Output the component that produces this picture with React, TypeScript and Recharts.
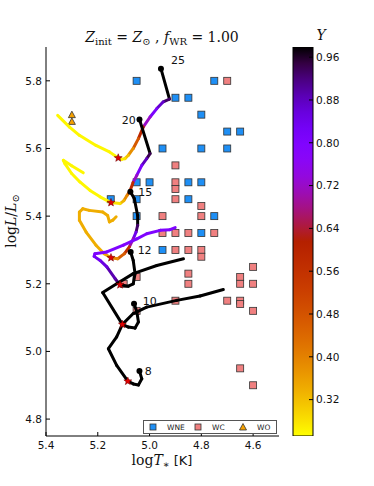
import React from "react";
import { ScatterChart, Scatter, XAxis, YAxis, Legend, BarChart, Bar } from "recharts";

// colour scale (surface He fraction Y)
const Y_MIN = 0.252;
const Y_MAX = 0.979;
const Y_TICKS = [0.32, 0.4, 0.48, 0.56, 0.64, 0.72, 0.8, 0.88, 0.96];
const T_TICKS = [5.4, 5.2, 5.0, 4.8, 4.6];
const L_TICKS = [4.8, 5.0, 5.2, 5.4, 5.6, 5.8];

// observed WR stars [logT, logL]
const WNE = [
  [5.05, 5.8], [4.9, 5.75], [4.85, 5.75], [4.75, 5.8], [4.8, 5.7], [4.7, 5.65], [4.65, 5.65],
  [4.95, 5.6], [4.8, 5.6], [4.7, 5.6], [5.05, 5.5], [5.0, 5.5], [4.85, 5.5], [4.8, 5.5],
  [5.15, 5.45], [5.05, 5.45], [4.85, 5.45], [5.05, 5.4], [4.75, 5.4], [4.8, 5.35], [4.95, 5.3],
];
const WC = [
  [4.7, 5.8], [4.9, 5.55], [4.9, 5.5], [4.9, 5.48], [4.9, 5.45], [4.8, 5.43], [4.95, 5.4], [4.8, 5.4],
  [4.95, 5.35], [4.9, 5.35], [4.85, 5.35], [4.75, 5.35], [4.9, 5.3], [4.85, 5.3], [4.8, 5.3], [4.8, 5.28],
  [5.05, 5.22], [4.85, 5.23], [4.85, 5.2], [5.1, 5.2], [4.9, 5.15], [5.05, 5.12], [4.65, 5.22], [4.6, 5.25],
  [4.65, 5.2], [4.6, 5.2], [4.7, 5.15], [4.65, 5.15], [4.65, 5.14], [4.6, 5.12], [4.65, 4.95], [4.6, 4.9],
];
const WO = [[5.3, 5.7], [5.3, 5.68]];

// tracks [logT, logL, Y]; Y null = non-WR phase (black)
type Pt = [number, number, number | null];
const TRACK_25: Pt[] = [
  [4.956, 5.836, null], [4.923, 5.746, 0.96], [4.947, 5.738, 0.9], [4.972, 5.718, 0.84],
  [4.998, 5.693, 0.78], [5.024, 5.664, 0.66], [5.043, 5.629, 0.52], [5.063, 5.6, 0.42],
  [5.082, 5.58, 0.34], [5.095, 5.57, 0.29], [5.107, 5.568, 0.27], [5.121, 5.572, 0.26],
  [5.155, 5.59, 0.26], [5.207, 5.609, 0.26], [5.271, 5.639, 0.26], [5.31, 5.664, 0.26],
  [5.355, 5.698, 0.26],
];
const TRACK_20: Pt[] = [
  [5.039, 5.686, null], [4.998, 5.585, 0.96], [5.011, 5.57, 0.92], [5.03, 5.55, 0.84],
  [5.049, 5.521, 0.78], [5.064, 5.499, 0.66], [5.075, 5.476, 0.5], [5.087, 5.461, 0.42],
  [5.099, 5.446, 0.36], [5.114, 5.437, 0.3], [5.149, 5.44, 0.26], [5.191, 5.457, 0.26],
  [5.23, 5.476, 0.26], [5.269, 5.501, 0.26], [5.301, 5.526, 0.26], [5.327, 5.555, 0.26],
  [5.333, 5.565, 0.26], [5.301, 5.549, 0.26], [5.256, 5.528, 0.26],
];
const TRACK_15: Pt[] = [
  [5.074, 5.472, null], [5.059, 5.452, null], [5.046, 5.402, null], [5.046, 5.373, 0.96],
  [5.052, 5.353, 0.9], [5.063, 5.333, 0.78], [5.078, 5.309, 0.62], [5.097, 5.289, 0.5],
  [5.123, 5.274, 0.42], [5.149, 5.277, 0.36], [5.175, 5.289, 0.34], [5.207, 5.314, 0.34],
  [5.245, 5.353, 0.34], [5.271, 5.388, 0.34], [5.271, 5.412, 0.34], [5.258, 5.422, 0.34],
  [5.233, 5.417, 0.34], [5.181, 5.412, 0.34], [5.162, 5.402, 0.34], [5.155, 5.383, 0.34],
  [5.142, 5.388, 0.34], [5.129, 5.398, 0.34],
];
const TRACK_12: Pt[] = [
  [5.073, 5.294, null], [5.063, 5.269, null], [5.056, 5.23, null], [5.063, 5.2, null],
  [5.082, 5.193, null], [5.114, 5.197, 0.93], [5.133, 5.215, 0.91], [5.165, 5.25, 0.87],
  [5.191, 5.269, 0.84], [5.214, 5.281, 0.82], [5.211, 5.289, 0.81], [5.165, 5.294, 0.8],
  [5.101, 5.314, 0.8], [5.049, 5.333, 0.8], [5.011, 5.348, 0.8], [4.959, 5.358, 0.8],
  [4.921, 5.36, 0.8], [4.901, 5.366, 0.8],
];
const TRACK_10: Pt[] = [
  [5.06, 5.141, null], [5.049, 5.117, null], [5.043, 5.087, null], [5.056, 5.069, null],
  [5.082, 5.072, null], [5.105, 5.08, null], [5.181, 5.174, null], [5.127, 5.2, null],
  [5.063, 5.23, null], [4.972, 5.254, null], [4.869, 5.274, null],
];
const TRACK_8: Pt[] = [
  [5.039, 4.942, null], [5.03, 4.919, null], [5.043, 4.901, null], [5.063, 4.904, null],
  [5.084, 4.912, null], [5.127, 4.959, null], [5.159, 5.008, null], [5.127, 5.043, null],
  [5.105, 5.08, null], [5.063, 5.112, null], [5.011, 5.131, null], [4.895, 5.151, null],
  [4.805, 5.164, null], [4.715, 5.183, null],
];
const TRACKS = [TRACK_25, TRACK_20, TRACK_15, TRACK_12, TRACK_10, TRACK_8];
const STARS = [[5.121, 5.572], [5.149, 5.44], [5.149, 5.277], [5.114, 5.197], [5.105, 5.08], [5.084, 4.912]];
const MASS_LABELS = [
  { m: "25", t: 4.89, l: 5.861 }, { m: "20", t: 5.08, l: 5.683 }, { m: "15", t: 5.017, l: 5.472 },
  { m: "12", t: 5.019, l: 5.299 }, { m: "10", t: 4.999, l: 5.148 }, { m: "8", t: 5.005, l: 4.942 },
];
const LEGEND_ITEMS = [
  { name: "WNE", kind: "sq", fill: "#1e8ff5" },
  { name: "WC", kind: "sq", fill: "#f08080" },
  { name: "WO", kind: "tri", fill: "#f5a000" },
];
const CBAR = [{ name: "Y", range: [Y_MIN, Y_MAX] }];

const SANS = "'DejaVu Sans', sans-serif";
const SERIF = "'DejaVu Serif', 'Liberation Serif', serif";

// matplotlib gnuplot_r
function cmap(y: number) {
  const t = 1 - Math.min(1, Math.max(0, (y - Y_MIN) / (Y_MAX - Y_MIN)));
  const r = Math.sqrt(t);
  const g = t * t * t;
  const b = Math.max(0, Math.sin(2 * Math.PI * t));
  return `rgb(${Math.round(r * 255)},${Math.round(g * 255)},${Math.round(b * 255)})`;
}

const toPts = (arr: number[][]) => arr.map(([t, l]) => ({ t, l }));

function segments(pts: Pt[]) {
  const out: { color: string; data: { t: number; l: number }[] }[] = [];
  for (let i = 0; i < pts.length - 1; i++) {
    const a = pts[i];
    const b = pts[i + 1];
    const color = a[2] == null || b[2] == null ? "#000" : cmap((a[2] + b[2]) / 2);
    out.push({ color, data: [{ t: a[0], l: a[1] }, { t: b[0], l: b[1] }] });
  }
  return out;
}

const Empty = () => <g />;
const square = (fill: string) => (p: any) => (
  <rect x={p.cx - 3.5} y={p.cy - 3.5} width={7} height={7} fill={fill} stroke="#333" strokeWidth={0.8} />
);
const triangle = (fill: string) => (p: any) => (
  <polygon points={`${p.cx},${p.cy - 3.5} ${p.cx + 3.5},${p.cy + 3} ${p.cx - 3.5},${p.cy + 3}`} fill={fill} stroke="#333" strokeWidth={0.8} />
);
const StarShape = (p: any) => {
  const pts: string[] = [];
  for (let k = 0; k < 10; k++) {
    const r = k % 2 === 0 ? 4.2 : 1.8;
    const a = -Math.PI / 2 + (k * Math.PI) / 5;
    pts.push(`${p.cx + r * Math.cos(a)},${p.cy + r * Math.sin(a)}`);
  }
  return <polygon points={pts.join(" ")} fill="#e00000" stroke="#600" strokeWidth={0.5} />;
};
const Dot = (p: any) => <circle cx={p.cx} cy={p.cy} r={3} fill="#000" />;
const MassLabel = (p: any) => (
  <text x={p.cx} y={p.cy} dy="0.36em" textAnchor="middle" fontSize={11} fontFamily={SANS} fill="#111">
    {p.payload.m}
  </text>
);

const BottomTick = (p: any) => (
  <g>
    <line x1={p.x} y1={p.y} x2={p.x} y2={p.y - 4} stroke="#000" />
    <text x={p.x} y={p.y + 13} textAnchor="middle" fontSize={10.5} fontFamily={SANS} fill="#111">
      {Number(p.payload.value).toFixed(1)}
    </text>
  </g>
);
const TopTick = (p: any) => <line x1={p.x} y1={p.y} x2={p.x} y2={p.y + 4} stroke="#000" />;
const LeftTick = (p: any) => (
  <g>
    <line x1={p.x} y1={p.y} x2={p.x + 4} y2={p.y} stroke="#000" />
    <text x={p.x - 4} y={p.y} dy="0.36em" textAnchor="end" fontSize={10.5} fontFamily={SANS} fill="#111">
      {Number(p.payload.value).toFixed(1)}
    </text>
  </g>
);
const RightTick = (p: any) => <line x1={p.x} y1={p.y} x2={p.x - 4} y2={p.y} stroke="#000" />;
const CbarTick = (p: any) => (
  <g>
    <line x1={p.x} y1={p.y} x2={p.x - 4} y2={p.y} stroke="#000" />
    <text x={p.x + 3} y={p.y} dy="0.36em" textAnchor="start" fontSize={10.5} fontFamily={SANS} fill="#111">
      {Number(p.payload.value).toFixed(2)}
    </text>
  </g>
);

function LegendBox() {
  return (
    <svg width={135} height={14} style={{ display: "block" }}>
      <rect x={0.5} y={0.5} width={133} height={13} fill="#fff" stroke="#555" />
      {LEGEND_ITEMS.map((it, i) => {
        const mx = 10 + i * 45;
        return (
          <g key={it.name}>
            {it.kind === "sq" ? (
              <rect x={mx - 3} y={4} width={6} height={6} fill={it.fill} stroke="#333" strokeWidth={0.8} />
            ) : (
              <polygon points={`${mx},${3.5} ${mx + 3.5},${10} ${mx - 3.5},${10}`} fill={it.fill} stroke="#333" strokeWidth={0.8} />
            )}
            <text x={mx + 14} y={10} fontSize={7.5} fontFamily={SANS} fill="#222">
              {it.name}
            </text>
          </g>
        );
      })}
    </svg>
  );
}

export default function App() {
  const segs = TRACKS.flatMap((tr) => segments(tr));
  const zams = TRACKS.map((tr) => ({ t: tr[0][0], l: tr[0][1] }));
  const stops = Array.from({ length: 25 }, (_, k) => {
    const f = k / 24;
    return <stop key={k} offset={f} stopColor={cmap(Y_MAX - f * (Y_MAX - Y_MIN))} />;
  });

  return (
    <div style={{ position: "absolute", left: 0, top: 0, width: 374, height: 486, background: "#fff" }}>
      <div style={{ position: "absolute", left: 0, top: 0 }}>
        <ScatterChart width={374} height={486} margin={{ top: 47, right: 95, bottom: 20, left: 10 }}>
          <XAxis type="number" dataKey="t" domain={[4.5, 5.4]} reversed allowDataOverflow ticks={T_TICKS} interval={0}
            height={30} tickSize={0} tickMargin={0} tick={BottomTick} axisLine={{ stroke: "#000" }} />
          <XAxis xAxisId="top" orientation="top" type="number" domain={[4.5, 5.4]} reversed allowDataOverflow ticks={T_TICKS}
            interval={0} height={0} tickSize={0} tickMargin={0} tick={TopTick} axisLine={{ stroke: "#000" }} />
          <YAxis type="number" dataKey="l" domain={[4.75, 5.9]} allowDataOverflow ticks={L_TICKS} interval={0}
            width={36} tickSize={0} tickMargin={0} tick={LeftTick} axisLine={{ stroke: "#000" }} />
          <YAxis yAxisId="right" orientation="right" type="number" domain={[4.75, 5.9]} allowDataOverflow ticks={L_TICKS}
            interval={0} width={0} tickSize={0} tickMargin={0} tick={RightTick} axisLine={{ stroke: "#000" }} />

          <Scatter name="WNE" data={toPts(WNE)} shape={square("#1e8ff5")} isAnimationActive={false} />
          <Scatter name="WC" data={toPts(WC)} shape={square("#f08080")} isAnimationActive={false} />
          <Scatter name="WO" data={toPts(WO)} shape={triangle("#f5a000")} isAnimationActive={false} />

          {segs.map((s, i) => (
            <Scatter key={`seg${i}`} data={s.data} shape={Empty} isAnimationActive={false}
              line={{ stroke: s.color, strokeWidth: 3, strokeLinecap: "round", strokeLinejoin: "round" }} />
          ))}

          <Scatter data={zams} shape={Dot} isAnimationActive={false} />
          <Scatter data={toPts(STARS)} shape={StarShape} isAnimationActive={false} />
          <Scatter data={MASS_LABELS} shape={MassLabel} isAnimationActive={false} />

          <Legend layout="vertical" align="center" verticalAlign="middle" content={LegendBox}
            wrapperStyle={{ left: 143, top: 420, width: 135, height: 14 }} />
        </ScatterChart>
      </div>

      <div style={{ position: "absolute", left: 280, top: 0 }}>
        <BarChart width={94} height={486} data={CBAR} margin={{ top: 47, right: 21, bottom: 50, left: 13 }} barCategoryGap={0}>
          <defs>
            <linearGradient id="ycmap" x1="0" y1="0" x2="0" y2="1">
              {stops}
            </linearGradient>
          </defs>
          <XAxis dataKey="name" hide />
          <YAxis orientation="right" type="number" domain={[Y_MIN, Y_MAX]} allowDataOverflow ticks={Y_TICKS} interval={0}
            width={40} axisLine={false} tickSize={0} tickMargin={0} tick={CbarTick} />
          <Bar dataKey="range" fill="url(#ycmap)" stroke="#000" strokeWidth={1} isAnimationActive={false} />
        </BarChart>
      </div>

      <svg width={374} height={486} style={{ position: "absolute", left: 0, top: 0, pointerEvents: "none" }}>
        <text x={162} y={42} textAnchor="middle" fontFamily={SERIF} fontSize={14} fill="#111">
          <tspan fontStyle="italic">Z</tspan>
          <tspan fontSize={10} dy={3}>init</tspan>
          <tspan dy={-3}> = </tspan>
          <tspan fontStyle="italic">Z</tspan>
          <tspan fontSize={10} dy={3}>⊙</tspan>
          <tspan dy={-3}> , </tspan>
          <tspan fontStyle="italic">f</tspan>
          <tspan fontSize={10} dy={3}>WR</tspan>
          <tspan dy={-3}> = 1.00</tspan>
        </text>
        <text x={321} y={40} textAnchor="middle" fontFamily={SERIF} fontStyle="italic" fontSize={14} fill="#111">Y</text>
        <text x={162} y={465} textAnchor="middle" fontFamily={SERIF} fontSize={14} fill="#111">
          <tspan>log</tspan>
          <tspan fontStyle="italic">T</tspan>
          <tspan fontSize={10} dy={3}>∗</tspan>
          <tspan dy={-3} fontFamily={SANS} fontSize={13}>  [K]</tspan>
        </text>
        <g transform="translate(16,221) rotate(-90)">
          <text x={0} y={0} textAnchor="middle" fontFamily={SERIF} fontSize={14} fill="#111">
            <tspan>log</tspan>
            <tspan fontStyle="italic">L</tspan>
            <tspan>/</tspan>
            <tspan fontStyle="italic">L</tspan>
            <tspan fontSize={10} dy={3}>⊙</tspan>
          </text>
        </g>
      </svg>
    </div>
  );
}
